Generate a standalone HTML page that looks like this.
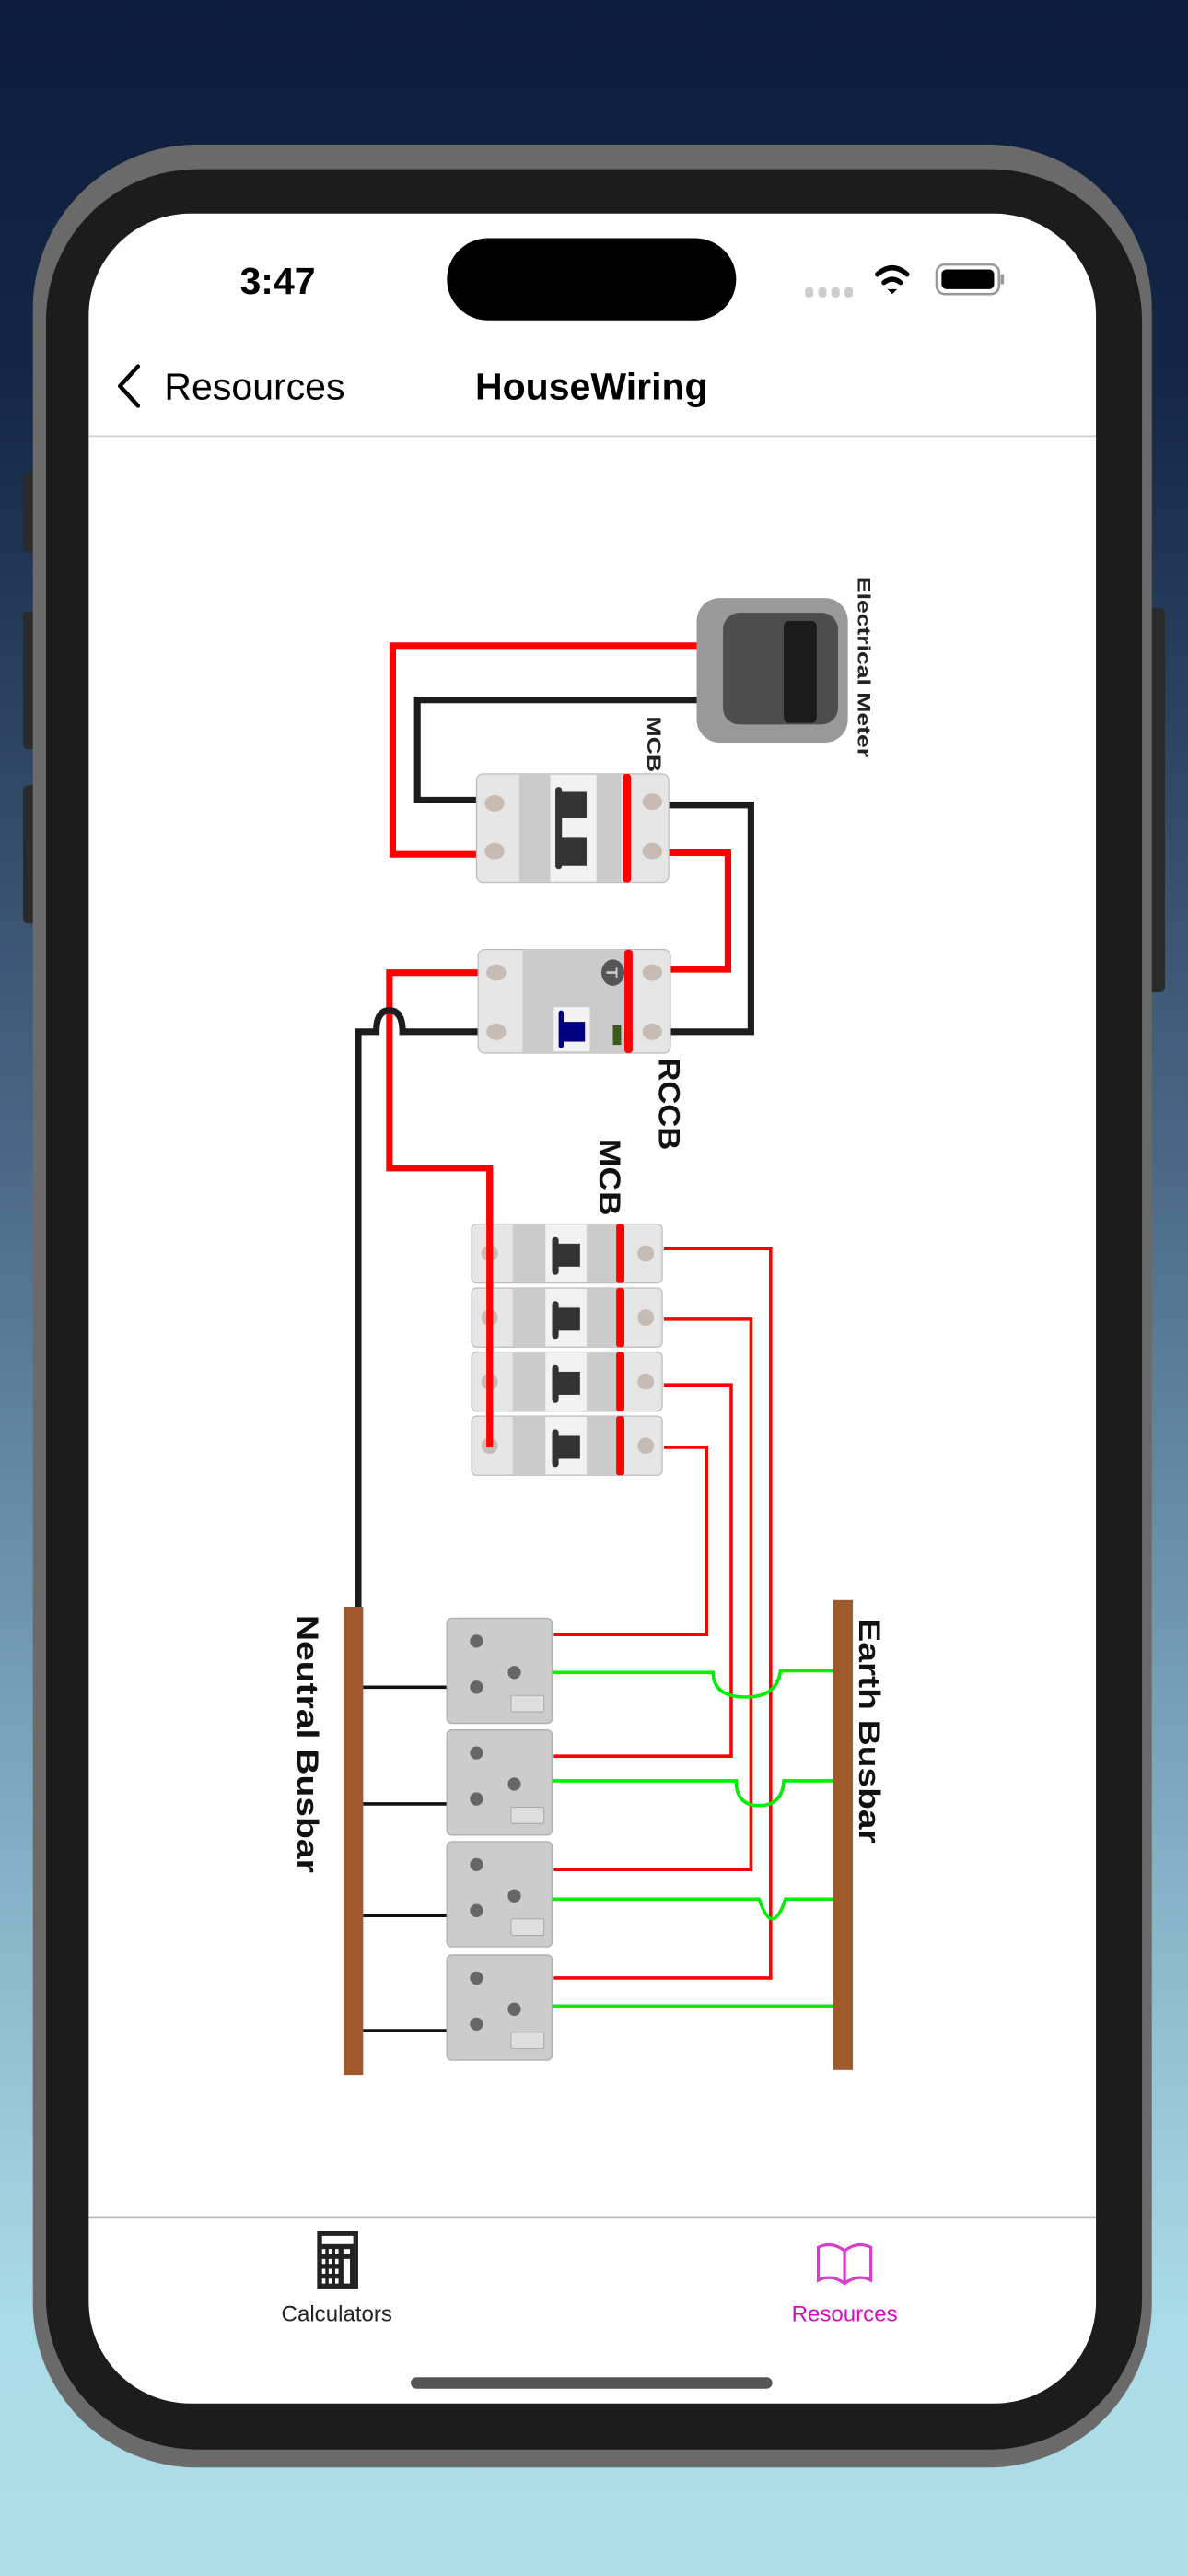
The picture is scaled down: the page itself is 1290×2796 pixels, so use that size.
<!DOCTYPE html>
<html><head><meta charset="utf-8"><style>
html,body{margin:0;padding:0;width:1290px;height:2796px;overflow:hidden;}
svg{display:block}
text{font-family:"Liberation Sans",sans-serif}
</style></head><body>
<svg width="1290" height="2796" viewBox="0 0 723 1568" preserveAspectRatio="none" xmlns="http://www.w3.org/2000/svg">
<defs>
<linearGradient id="bg" x1="0" y1="0" x2="0" y2="1">
<stop offset="0" stop-color="#0d1d3b"/><stop offset="0.15" stop-color="#142746"/><stop offset="0.45" stop-color="#4a6885"/><stop offset="0.7" stop-color="#7fa9c0"/><stop offset="0.9" stop-color="#aadbe8"/><stop offset="1" stop-color="#afdde9"/>
</linearGradient>
<g id="mcb">
<rect x="0" y="0" width="116" height="36" rx="3" fill="#e6e6e6" stroke="#bdbdbd" stroke-width="0.7"/>
<rect x="25" y="0.5" width="20" height="35" fill="#cbcbcb"/>
<rect x="45" y="0.5" width="25" height="35" fill="#f2f2f2"/>
<rect x="70" y="0.5" width="18" height="35" fill="#cbcbcb"/>
<rect x="88" y="0" width="5" height="36" rx="1.5" fill="#ff0000"/>
<rect x="49" y="8" width="4" height="23" rx="2" fill="#333"/>
<rect x="51" y="12" width="15" height="14" fill="#333"/>
<ellipse cx="11" cy="18" rx="5" ry="5" fill="#c8bbb3"/>
<ellipse cx="106" cy="18" rx="5" ry="5" fill="#c8bbb3"/>
</g>
<g id="sock">
<rect x="0" y="0" width="64" height="64" rx="3" fill="#cccccc" stroke="#b0b0b0" stroke-width="0.8"/>
<circle cx="18" cy="14" r="4" fill="#666"/>
<circle cx="18" cy="42" r="4" fill="#666"/>
<circle cx="41" cy="33" r="4" fill="#666"/>
<rect x="39" y="47" width="20" height="10" rx="1" fill="#dedede" stroke="#aaa" stroke-width="0.6"/>
</g>
</defs>
<rect width="723" height="1568" fill="url(#bg)"/>
<!-- phone -->
<rect x="14" y="288" width="12" height="48" rx="3" fill="#2a2a2a"/>
<rect x="14" y="372" width="12" height="84" rx="3" fill="#2a2a2a"/>
<rect x="14" y="478" width="12" height="84" rx="3" fill="#2a2a2a"/>
<rect x="697" y="370" width="12" height="234" rx="3" fill="#2a2a2a"/>
<rect x="20" y="88" width="681" height="1414" rx="100" fill="#6a6a6a"/>
<rect x="28" y="103" width="667" height="1388" rx="92" fill="#1c1c1c"/>
<rect x="54" y="130" width="613" height="1333" rx="62" fill="#ffffff"/>
<rect x="272" y="145" width="176" height="50" rx="25" fill="#000"/>
<text x="169" y="179" font-size="23" font-weight="bold" text-anchor="middle" fill="#000">3:47</text>
<g fill="#cccccc"><rect x="490" y="175" width="5" height="6" rx="2"/><rect x="498" y="175" width="5" height="6" rx="2"/><rect x="506" y="175" width="5" height="6" rx="2"/><rect x="514" y="175" width="5" height="6" rx="2"/></g>
<g fill="none" stroke="#000" stroke-width="3" stroke-linecap="round">
<path d="M534 167 Q543 159 552 167"/><path d="M538 172 Q543 168 548 172"/></g>
<path d="M540 176 L543 179 L546 176 Z" fill="#000"/>
<rect x="570" y="161" width="38" height="18" rx="5" fill="none" stroke="#999" stroke-width="1.5"/>
<rect x="573" y="164" width="32" height="12" rx="3" fill="#000"/>
<rect x="609" y="167" width="2" height="6" fill="#999"/>
<path d="M84 223 L73 235 L84 247" fill="none" stroke="#000" stroke-width="2.5" stroke-linecap="round" stroke-linejoin="round"/>
<text x="100" y="243" font-size="23" fill="#000">Resources</text>
<text x="360" y="243" font-size="23" font-weight="bold" text-anchor="middle" fill="#000">HouseWiring</text>
<rect x="54" y="265" width="613" height="1" fill="#cfcfcf"/>
<rect x="54" y="1349" width="613" height="1" fill="#bdbdbd"/>
<!-- tab icons -->
<rect x="193" y="1358" width="25" height="35" fill="#222"/>
<rect x="196" y="1361" width="19" height="5" fill="#fff"/>
<g fill="#fff"><rect x="196" y="1369" width="2" height="3"/><rect x="200" y="1369" width="2" height="3"/><rect x="204" y="1369" width="2" height="3"/><rect x="196" y="1375" width="2" height="3"/><rect x="200" y="1375" width="2" height="3"/><rect x="204" y="1375" width="2" height="3"/><rect x="196" y="1381" width="2" height="3"/><rect x="200" y="1381" width="2" height="3"/><rect x="204" y="1381" width="2" height="3"/><rect x="196" y="1387" width="2" height="3"/><rect x="200" y="1387" width="2" height="3"/><rect x="204" y="1387" width="2" height="3"/><rect x="209" y="1369" width="4" height="3"/><rect x="209" y="1375" width="4" height="15"/></g>
<text x="205" y="1413" font-size="13.5" text-anchor="middle" fill="#222">Calculators</text>
<path d="M498 1368 L498 1388 Q506 1384 514 1390 Q522 1384 530 1388 L530 1368 Q522 1364 514 1370 Q506 1364 498 1368 Z M514 1370 L514 1389" fill="none" stroke="#d43fc9" stroke-width="1.8"/>
<text x="514" y="1413" font-size="13.5" text-anchor="middle" fill="#d010c0">Resources</text>
<rect x="250" y="1447" width="220" height="7" rx="3.5" fill="#555"/>
<!-- meter -->
<rect x="424" y="364" width="92" height="88" rx="14" fill="#999"/>
<rect x="440" y="373" width="70" height="68" rx="10" fill="#4d4d4d"/>
<rect x="477" y="378" width="20" height="62" rx="3" fill="#1b1b1b"/>
<text transform="translate(522,351) rotate(90)" font-size="11" font-weight="bold" fill="#222" textLength="110" lengthAdjust="spacingAndGlyphs">Electrical Meter</text>
<text transform="translate(394,436) rotate(90)" font-size="12" font-weight="bold" fill="#222" textLength="34" lengthAdjust="spacingAndGlyphs">MCB</text>
<!-- wires top -->
<g fill="none" stroke-width="4" stroke-linejoin="miter">
<path d="M424 393 H239 V520 H290" stroke="#ff0000"/>
<path d="M424 426 H254 V487 H290" stroke="#1c1c1c"/>
<path d="M406 490 H457 V628 H399" stroke="#1c1c1c"/>
<path d="M407 519 H443 V590 H407" stroke="#ff0000"/>
<path d="M302 592 H237 V711 H298 V881" stroke="#ff0000"/>
<path d="M302 628 H245 Q245 615 237 615 Q229 615 229 628 H218 V980" stroke="#1c1c1c"/>
</g>
<!-- MCB1 -->
<g transform="translate(290,471)">
<rect x="0" y="0" width="117" height="66" rx="4" fill="#e6e6e6" stroke="#bdbdbd" stroke-width="0.7"/>
<rect x="26" y="0.5" width="19" height="65" fill="#cbcbcb"/>
<rect x="45" y="0.5" width="28" height="65" fill="#f2f2f2"/>
<rect x="73" y="0.5" width="15" height="65" fill="#cbcbcb"/>
<rect x="89" y="0" width="5" height="66" rx="2" fill="#ff0000"/>
<rect x="48" y="8" width="4" height="50" rx="2" fill="#333"/>
<rect x="50" y="11" width="17" height="16" fill="#333"/>
<rect x="50" y="39" width="17" height="17" fill="#333"/>
<ellipse cx="11" cy="18" rx="6" ry="5" fill="#c8bbb3"/>
<ellipse cx="11" cy="47" rx="6" ry="5" fill="#c8bbb3"/>
<ellipse cx="107" cy="17" rx="6" ry="5" fill="#c8bbb3"/>
<ellipse cx="107" cy="47" rx="6" ry="5" fill="#c8bbb3"/>
</g>
<!-- RCCB -->
<g transform="translate(291,578)">
<rect x="0" y="0" width="117" height="63" rx="4" fill="#e6e6e6" stroke="#bdbdbd" stroke-width="0.7"/>
<rect x="27" y="0.5" width="62" height="62" fill="#cbcbcb"/>
<rect x="89" y="0" width="5" height="63" rx="2" fill="#ff0000"/>
<ellipse cx="82" cy="14" rx="7" ry="8" fill="#555"/>
<text x="82" y="18" font-size="10" font-weight="bold" text-anchor="middle" fill="#ccc" transform="rotate(90,82,14)">T</text>
<rect x="46" y="35" width="22" height="27" fill="#f2f2f2"/>
<rect x="49" y="37" width="3" height="23" rx="1.5" fill="#000080"/>
<rect x="50" y="44" width="15" height="12" fill="#000080"/>
<rect x="82" y="46" width="5" height="12" fill="#3a5a1a"/>
<ellipse cx="11" cy="14" rx="6" ry="5" fill="#c8bbb3"/>
<ellipse cx="11" cy="50" rx="6" ry="5" fill="#c8bbb3"/>
<ellipse cx="106" cy="14" rx="6" ry="5" fill="#c8bbb3"/>
<ellipse cx="106" cy="50" rx="6" ry="5" fill="#c8bbb3"/>
</g>
<text transform="translate(401,644) rotate(90)" font-size="18" font-weight="bold" fill="#111" textLength="56" lengthAdjust="spacingAndGlyphs">RCCB</text>
<text transform="translate(365,693) rotate(90)" font-size="18" font-weight="bold" fill="#111" textLength="47" lengthAdjust="spacingAndGlyphs">MCB</text>
<!-- MCB stack -->
<use href="#mcb" x="287" y="745"/>
<use href="#mcb" x="287" y="784"/>
<use href="#mcb" x="287" y="823"/>
<use href="#mcb" x="287" y="862"/>
<path d="M298 711 V881" stroke="#ff0000" stroke-width="4" fill="none"/>
<!-- red circuit wires -->
<g fill="none" stroke="#ff0000" stroke-width="2">
<path d="M404 760 H469 V1204 H337"/>
<path d="M404 803 H457 V1138 H337"/>
<path d="M404 843 H445 V1069 H337"/>
<path d="M404 881 H430 V995 H337"/>
</g>
<!-- busbars -->
<rect x="209" y="978" width="12" height="285" fill="#a0592b"/>
<rect x="507" y="974" width="12" height="286" fill="#a0592b"/>
<text transform="translate(181,983) rotate(90)" font-size="18" font-weight="bold" fill="#111" textLength="157" lengthAdjust="spacingAndGlyphs">Neutral Busbar</text>
<text transform="translate(523,985) rotate(90)" font-size="18" font-weight="bold" fill="#111" textLength="137" lengthAdjust="spacingAndGlyphs">Earth Busbar</text>
<!-- neutral lines -->
<g stroke="#111" stroke-width="2"><path d="M221 1027 H272"/><path d="M221 1098 H272"/><path d="M221 1166 H272"/><path d="M221 1236 H272"/></g>
<!-- sockets -->
<use href="#sock" x="272" y="985"/>
<use href="#sock" x="272" y="1053"/>
<use href="#sock" x="272" y="1121"/>
<use href="#sock" x="272" y="1190"/>
<!-- green -->
<g fill="none" stroke="#00ee00" stroke-width="2">
<path d="M336 1018 H434 Q434 1033 454 1033 Q473 1033 475 1017 H507"/>
<path d="M336 1084 H448 Q448 1099 462 1099 Q476 1099 477 1084 H507"/>
<path d="M336 1156 H462 Q466 1168 470 1168 Q474 1168 478 1156 H507"/>
<path d="M336 1221 H507"/>
</g>
</svg>
</body></html>
